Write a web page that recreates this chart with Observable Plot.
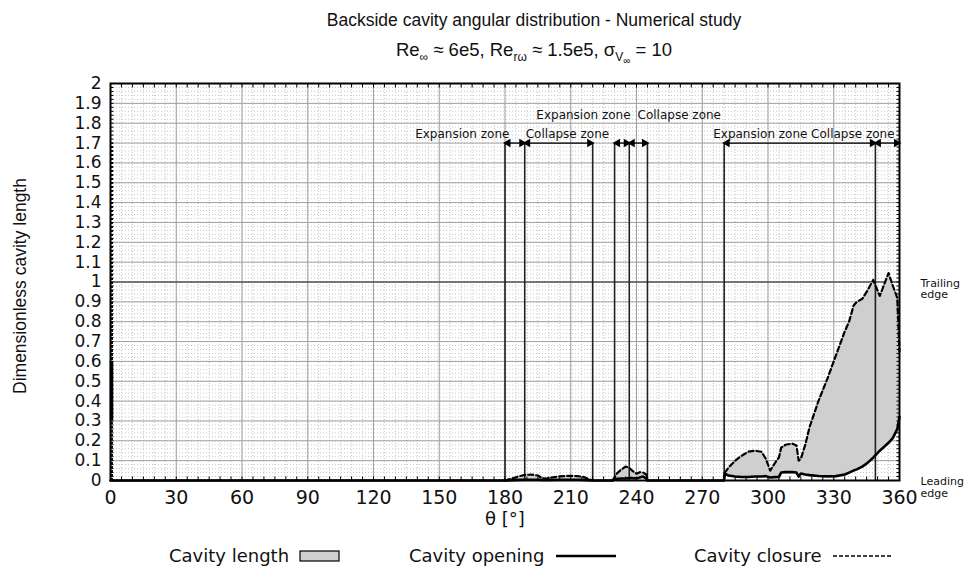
<!DOCTYPE html>
<html>
<head>
<meta charset="utf-8">
<script src="https://cdn.jsdelivr.net/npm/d3@7"></script>
<script src="https://cdn.jsdelivr.net/npm/@observablehq/plot@0.6"></script>
<style>
  body { margin: 0; background: #fff; }
  #wrap { position: relative; width: 971px; height: 571px; font-family: "DejaVu Sans", "Liberation Sans", sans-serif; color: #111; }
  .ttl { position: absolute; left: 0; width: 1068px; text-align: center; font-family: "Liberation Sans", Arial, sans-serif; font-size: 17.5px; white-space: nowrap; }
  #t1 { top: 10px; }
  #t2 { top: 39px; font-size: 18.5px; }
  sub { font-size: 12px; vertical-align: -5px; line-height: 0; }
  sub sub { font-size: 10px; vertical-align: -3px; }
  #chart { position: absolute; top: 70px; left: 0; }
  .lg { position: absolute; top: 545px; font-size: 18px; white-space: nowrap; display: flex; align-items: center; }
  .lg svg { margin-left: 10px; }
</style>
</head>
<body>
<div id="wrap">
  <div class="ttl" id="t1">Backside cavity angular distribution - Numerical study</div>
  <div class="ttl" id="t2">Re<sub>∞</sub> ≈ 6e5, Re<sub>rω</sub> ≈ 1.5e5, σ<sub>V<sub>∞</sub></sub> = 10</div>
  <div id="chart"></div>
  <div class="lg" style="left:169px">Cavity length<svg width="42" height="16"><rect x="1" y="3" width="39" height="10" fill="#cfcfcf" stroke="#000" stroke-width="1.2"></rect></svg></div>
  <div class="lg" style="left:409px">Cavity opening<svg width="64" height="16"><line x1="2" y1="8" x2="62" y2="8" stroke="#000" stroke-width="2.5"></line></svg></div>
  <div class="lg" style="left:694px">Cavity closure<svg width="62" height="16"><line x1="2" y1="8" x2="60" y2="8" stroke="#000" stroke-width="1.3" stroke-dasharray="4,2"></line></svg></div>
</div>
<script>
// ---- Tick labels ----
const thetaTicks = [0, 30, 60, 90, 120, 150, 180, 210, 240, 270, 300, 330, 360];
const yTicks = [0, 0.1, 0.2, 0.3, 0.4, 0.5, 0.6, 0.7, 0.8, 0.9, 1, 1.1, 1.2, 1.3, 1.4, 1.5, 1.6, 1.7, 1.8, 1.9, 2];

// ---- Cavity data (θ in degrees, dimensionless length) ----
const theta   = [0,    179.9, 180, 181,   183,   186,   189,   192,   195,   197,   199,   201,   204,   207,   210,   213,   216,   218,   220,  224,  229, 230,   231,   233,   235,   236.5, 238,   240,   241.5, 243,   244.5, 245,  262,  279.9, 280.3, 282,   285,  288,   291,   294,   297,   299,   301,   303,   305,   306,   308,   311,   313,   314,  315,   317,  319,   323,  327,  331,  335,  337,  339,  340.5, 343,   345,   348,   351,  355,   357,   359,  360];
const opening = [0,    0,     0,   0,     0.002, 0.003, 0.004, 0.004, 0.004, 0.003, 0.003, 0.003, 0.004, 0.004, 0.004, 0.004, 0.003, 0.002, 0,    0,    0,   0.005, 0.008, 0.01,  0.01,  0.012, 0.012, 0.01,  0.015, 0.02,  0.01,  0,    0,    0,     0.035, 0.025, 0.02, 0.018, 0.018, 0.02,  0.02,  0.022, 0.015, 0.017, 0.018, 0.04,  0.042, 0.042, 0.04,  0.02, 0.035, 0.03, 0.027, 0.023, 0.021, 0.022, 0.03, 0.04, 0.05, 0.056, 0.07,  0.085, 0.115, 0.15, 0.19,  0.215, 0.26, 0.32];
const closure = [null, null,  0,   0.003, 0.01,  0.02,  0.028, 0.03,  0.025, 0.012, 0.01,  0.015, 0.02,  0.022, 0.024, 0.022, 0.018, 0.008, 0,    null, 0,   0.015, 0.035, 0.055, 0.07,  0.066, 0.05,  0.034, 0.042, 0.04,  0.03,  0,    null, 0,     0.04,  0.065, 0.1,  0.125, 0.145, 0.15,  0.145, 0.11,  0.05,  0.085, 0.117, 0.165, 0.18,  0.186, 0.176, 0.1,  0.11,  0.18, 0.27,  0.4,  0.51, 0.63, 0.75, 0.8,  0.88, 0.9,   0.915, 0.95,  1.01,  0.93, 1.045, 0.98,  0.92, 0.65];

// Leading-edge cavity at θ = 0
const edgeOpening = [{lo: 0.3, hi: 0.6}];

// ---- Zones ----
const zoneBounds = [180, 189, 220, 230, 236.7, 245, 280, 349];
const zoneStart  = [180, 189, 230, 236.7, 280, 349];
const zoneEnd    = [189, 220, 236.7, 245, 349, 360];
const zoneLevel  = 1.7;
const zoneLabels = ["Expansion zone", "Collapse zone", "Expansion zone", "Collapse zone", "Expansion zone", "Collapse zone"];
const labelTheta = [160.5, 208.5, 215.8, 259.5, 296.5, 338.7];
const labelLevel = [1.745, 1.745, 1.843, 1.843, 1.745, 1.745];

const edgeLabels = ["Trailing\nedge", "Leading\nedge"];
const edgeLevels = [1, 0];

// ---- Derived tables ----
const rows = theta.map((t, i) => ({t, o: opening[i], c: closure[i]}));
const zones = zoneStart.map((s, i) => ({s, e: zoneEnd[i]}));
const labels = zoneLabels.map((text, i) => ({text, t: labelTheta[i], v: labelLevel[i]}));
const edges = edgeLabels.map((text, i) => ({text, v: edgeLevels[i]}));
const minorX = d3.range(0, 361, 5);
const minorY = d3.range(0, 101).map(i => i / 50);

// custom tick symbols
const tickR = {draw(ctx, size) { const l = Math.sqrt(size / Math.PI); ctx.moveTo(0, 0); ctx.lineTo(l, 0); }};
const tickL = {draw(ctx, size) { const l = Math.sqrt(size / Math.PI); ctx.moveTo(0, 0); ctx.lineTo(-l, 0); }};
const tickU = {draw(ctx, size) { const l = Math.sqrt(size / Math.PI); ctx.moveTo(0, 0); ctx.lineTo(0, -l); }};
const tickD = {draw(ctx, size) { const l = Math.sqrt(size / Math.PI); ctx.moveTo(0, 0); ctx.lineTo(0, l); }};

const chart = Plot.plot({
  width: 971,
  height: 470,
  marginLeft: 110,
  marginRight: 72,
  marginTop: 13,
  marginBottom: 60,
  style: {fontFamily: "'DejaVu Sans', sans-serif", fontSize: "16px", color: "#111", background: "#fff"},
  x: {domain: [0, 360]},
  y: {domain: [0, 2]},
  marks: [
    Plot.gridX(minorX, {stroke: "#c8c8c8", strokeOpacity: 1, strokeDasharray: "1,2"}),
    Plot.gridY(minorY, {stroke: "#c8c8c8", strokeOpacity: 1, strokeDasharray: "1,2"}),
    Plot.gridX(thetaTicks, {stroke: "#a0a0a0", strokeOpacity: 1}),
    Plot.gridY(yTicks, {stroke: "#a0a0a0", strokeOpacity: 1}),
    Plot.ruleY([1], {stroke: "#222", strokeWidth: 1.2}),
    Plot.areaY(rows, {x: "t", y1: "o", y2: "c", fill: "#cfcfcf"}),
    Plot.ruleX(zoneBounds, {y1: 0, y2: zoneLevel, stroke: "#222", strokeWidth: 1.6}),
    Plot.ruleX([0], {y1: 0, y2: zoneLevel, stroke: "#111", strokeWidth: 3, strokeDasharray: "2,2", dx: 1}),
    Plot.ruleX(edgeOpening, {x: () => 0, y1: "lo", y2: "hi", stroke: "#000", strokeWidth: 3.5, dx: 1}),
    Plot.line(rows, {x: "t", y: "o", stroke: "#000", strokeWidth: 2.6}),
    Plot.line(rows, {x: "t", y: "c", stroke: "#000", strokeWidth: 2.2, strokeDasharray: "5,3"}),
    Plot.link(zones, {x1: "s", x2: "e", y1: () => zoneLevel, y2: () => zoneLevel, stroke: "#000", strokeWidth: 1.3}),
    Plot.dot(zones, {x: "s", y: () => zoneLevel, symbol: "triangle", rotate: -90, r: 3.2, fill: "#000", stroke: "none", dx: 3}),
    Plot.dot(zones, {x: "e", y: () => zoneLevel, symbol: "triangle", rotate: 90, r: 3.2, fill: "#000", stroke: "none", dx: -3}),
    Plot.text(labels, {x: "t", y: "v", text: "text", fontSize: 12, fill: "#111"}),
    Plot.text(edges, {x: () => 360, y: "v", text: "text", textAnchor: "start", dx: 21, dy: 7, fontSize: 11, lineHeight: 1.05, fill: "#111"}),
    // inside minor ticks
    Plot.dot(minorY, {x: () => 0, y: d => d, symbol: tickR, r: 3, stroke: "#000", strokeWidth: 1, fill: "none"}),
    Plot.dot(minorY, {x: () => 360, y: d => d, symbol: tickL, r: 3, stroke: "#000", strokeWidth: 1, fill: "none"}),
    Plot.dot(minorX, {x: d => d, y: () => 0, symbol: tickU, r: 4, stroke: "#000", strokeWidth: 1, fill: "none"}),
    Plot.dot(minorX, {x: d => d, y: () => 2, symbol: tickD, r: 4, stroke: "#000", strokeWidth: 1, fill: "none"}),
    Plot.frame({stroke: "#000", strokeWidth: 2}),
    Plot.axisX(thetaTicks, {tickSize: 0, tickPadding: 10, fontSize: 19, label: null, tickFormat: d => String(d)}),
    Plot.axisY(yTicks, {tickSize: 0, tickPadding: 9, fontSize: 17, label: null, tickFormat: d => String(d)}),
    Plot.text(["θ [°]"], {frameAnchor: "bottom", dy: 44, fontSize: 18, fill: "#111"}),
    Plot.text(["Dimensionless cavity length"], {frameAnchor: "left", textAnchor: "middle", dx: -90, dy: 4, rotate: -90, fontSize: 17.5, fontFamily: "'Liberation Sans', sans-serif", fill: "#111"})
  ]
});
document.getElementById("chart").appendChild(chart);
</script>
</body>
</html>
